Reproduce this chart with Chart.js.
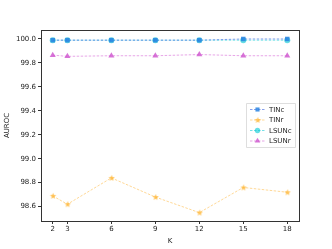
<!DOCTYPE html>
<html lang="en">
<head>
    <meta charset="UTF-8">
    <title>AUROC vs K</title>
    <script src="https://cdn.jsdelivr.net/npm/chart.js@4.4.0/dist/chart.umd.min.js"></script>
    <style>
        html, body { margin: 0; padding: 0; background: #fff; }
        #wrap { width: 332px; height: 249px; }
    </style>
</head>
<body>
    <div id="wrap"><canvas id="chart" width="332" height="249"></canvas></div>
    <script>
        // data
        const kValues = [2, 3, 6, 9, 12, 15, 18];
        const tinc = [99.99, 99.99, 99.99, 99.99, 99.99, 100.0, 100.0];
        const tinr = [98.69, 98.62, 98.84, 98.68, 98.55, 98.76, 98.72];
        const lsunc = [99.99, 99.99, 99.99, 99.99, 99.99, 99.99, 99.99];
        const lsunr = [99.865, 99.855, 99.86, 99.86, 99.87, 99.86, 99.86];
        const yTicks = [98.6, 98.8, 99.0, 99.2, 99.4, 99.6, 99.8, 100.0];

        const FONT = 'DejaVu Sans';

        // filled 5-point star like matplotlib '*'
        function starImage(color, r) {
            const c = document.createElement('canvas');
            c.width = c.height = r * 2 + 2;
            const g = c.getContext('2d');
            g.fillStyle = color;
            g.beginPath();
            for (let i = 0; i < 10; i++) {
                const rad = i % 2 === 0 ? r : r * 0.45;
                const a = -Math.PI / 2 + i * Math.PI / 5;
                const x = r + 1 + rad * Math.cos(a), y = r + 1 + rad * Math.sin(a);
                if (i === 0) g.moveTo(x, y); else g.lineTo(x, y);
            }
            g.closePath();
            g.fill();
            return c;
        }

        const star = starImage('rgba(255,178,40,0.75)', 3.3);

        function pts(ys) {
            return kValues.map((k, i) => ({ x: k, y: ys[i] }));
        }

        const dash = [2.5, 1.5];
        const datasets = [
            { label: 'TINc', data: pts(tinc), borderColor: 'rgba(65,105,225,0.7)', backgroundColor: 'rgba(40,130,225,0.85)', pointStyle: 'rect', pointRadius: 3.2 },
            { label: 'TINr', data: pts(tinr), borderColor: 'rgba(255,175,40,0.55)', backgroundColor: 'rgba(255,178,40,0.75)', pointStyle: star, pointRadius: 3.3 },
            { label: 'LSUNc', data: pts(lsunc), borderColor: 'rgba(0,200,210,0.6)', backgroundColor: 'rgba(0,200,210,0.6)', pointStyle: 'circle', pointRadius: 3 },
            { label: 'LSUNr', data: pts(lsunr), borderColor: 'rgba(210,90,210,0.6)', backgroundColor: 'rgba(205,80,205,0.8)', pointStyle: 'triangle', pointRadius: 3.5 }
        ].map(d => Object.assign(d, {
            borderWidth: 0.9, borderDash: dash, pointBorderWidth: 0,
            pointBorderColor: 'rgba(0,0,0,0)', fill: false, tension: 0
        }));

        // box round plot area + legend like matplotlib
        const framePlugin = {
            id: 'frame',
            afterDraw(chart) {
                const ctx = chart.ctx, a = chart.chartArea;
                ctx.save();
                ctx.strokeStyle = '#333';
                ctx.lineWidth = 1;
                ctx.strokeRect(Math.round(a.left) + 0.5, Math.round(a.top) + 0.5,
                    Math.round(a.right - a.left), Math.round(a.bottom - a.top));

                // legend
                const bx = 246, by = 103, bw = 49, bh = 44;
                ctx.fillStyle = 'rgba(255,255,255,0.85)';
                ctx.strokeStyle = '#d5d5d5';
                ctx.lineWidth = 0.8;
                ctx.beginPath();
                ctx.rect(bx + 0.5, by + 0.5, bw, bh);
                ctx.fill();
                ctx.stroke();
                ctx.font = '7px ' + FONT;
                ctx.textBaseline = 'middle';
                chart.data.datasets.forEach((d, i) => {
                    const y = by + 6.5 + i * 10.5;
                    ctx.strokeStyle = d.borderColor;
                    ctx.lineWidth = 0.9;
                    ctx.setLineDash(dash);
                    ctx.beginPath();
                    ctx.moveTo(bx + 4, y);
                    ctx.lineTo(bx + 19, y);
                    ctx.stroke();
                    ctx.setLineDash([]);
                    ctx.fillStyle = d.backgroundColor;
                    Chart.helpers.drawPoint(ctx, { pointStyle: d.pointStyle, radius: d.pointRadius - 0.3, borderWidth: 0 }, bx + 11.5, y);
                    ctx.fillStyle = '#222';
                    ctx.fillText(d.label, bx + 23, y + 0.5);
                });
                ctx.restore();
            }
        };

        new Chart(document.getElementById('chart').getContext('2d'), {
            type: 'line',
            data: { datasets: datasets },
            options: {
                responsive: false,
                animation: false,
                layout: { padding: { top: 30, right: 33, left: 3, bottom: 4 } },
                plugins: { legend: { display: false }, tooltip: { enabled: false } },
                scales: {
                    x: {
                        type: 'linear', min: 1.2, max: 18.8,
                        afterBuildTicks: s => { s.ticks = kValues.map(v => ({ value: v })); },
                        afterFit: s => { s.height = 24; },
                        ticks: { font: { family: FONT, size: 7 }, color: '#222', padding: 1, maxRotation: 0 },
                        grid: { drawOnChartArea: false, tickLength: 3, color: '#333' },
                        border: { color: '#333' },
                        title: { display: true, text: 'K', font: { family: FONT, size: 7 }, color: '#222', padding: { top: 2, bottom: 0 } }
                    },
                    y: {
                        min: 98.48, max: 100.075,
                        afterBuildTicks: s => { s.ticks = yTicks.map(v => ({ value: v })); },
                        afterFit: s => { s.width = 38; },
                        ticks: { font: { family: FONT, size: 7 }, color: '#222', padding: 2, callback: v => v.toFixed(1) },
                        grid: { drawOnChartArea: false, tickLength: 3, color: '#333' },
                        border: { color: '#333' },
                        title: { display: true, text: 'AUROC', font: { family: FONT, size: 7 }, color: '#222', padding: { top: 0, bottom: 2 } }
                    }
                }
            },
            plugins: [framePlugin]
        });
    </script>
</body>
</html>
